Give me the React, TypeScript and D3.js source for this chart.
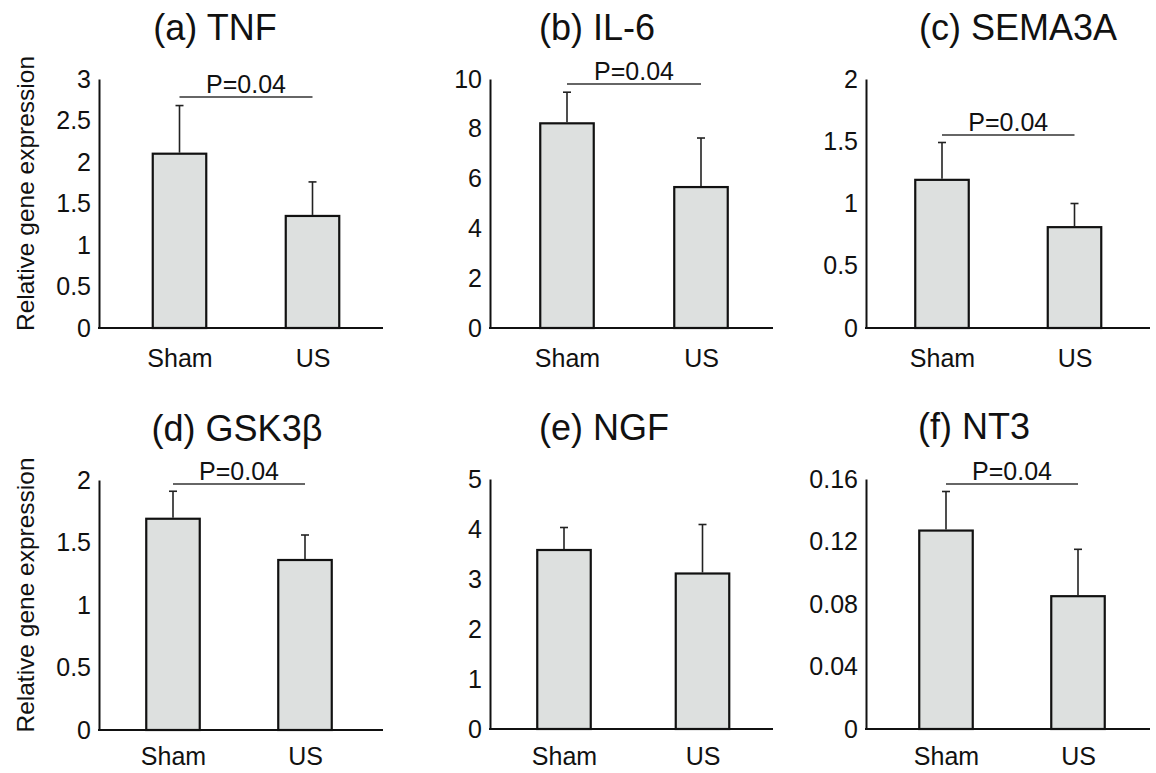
import * as d3 from 'd3';
import { useEffect, useRef } from 'react';

const groups = ['Sham', 'US'];
const panelTitles = ['(a) TNF', '(b) IL-6', '(c) SEMA3A', '(d) GSK3β', '(e) NGF', '(f) NT3'];
const meanValues = [
  [2.1, 1.35],
  [8.22, 5.66],
  [1.19, 0.81],
  [1.69, 1.36],
  [3.58, 3.11],
  [0.127, 0.085],
];
const errorValues = [
  [0.58, 0.41],
  [1.25, 1.97],
  [0.3, 0.19],
  [0.22, 0.2],
  [0.45, 0.98],
  [0.025, 0.03],
];
const yTicks = [
  [0, 0.5, 1, 1.5, 2, 2.5, 3],
  [0, 2, 4, 6, 8, 10],
  [0, 0.5, 1, 1.5, 2],
  [0, 0.5, 1, 1.5, 2],
  [0, 1, 2, 3, 4, 5],
  [0, 0.04, 0.08, 0.12, 0.16],
];
const pLabels = ['P=0.04', 'P=0.04', 'P=0.04', 'P=0.04', null, 'P=0.04'];
const yTitle = 'Relative gene expression';

// panel geometry (pixels)
const layout = [
  { x0: 99, x1: 383, top: 79, base: 328, c0: 80.5, c1: 213.5, tx: 215, ty: 40, py: 97, lp: 21 },
  { x0: 490, x1: 773, top: 79, base: 328, c0: 77, c1: 211, tx: 597, ty: 40, py: 84, lp: 21 },
  { x0: 866, x1: 1150, top: 79, base: 328, c0: 76, c1: 208.5, tx: 1018, ty: 40, py: 135, lp: 21 },
  { x0: 99, x1: 383, top: 480, base: 730, c0: 74, c1: 206, tx: 237, ty: 441, py: 484, lp: 17 },
  { x0: 490, x1: 773, top: 479, base: 729, c0: 74, c1: 212.5, tx: 604, ty: 440, py: 0, lp: 18 },
  { x0: 866, x1: 1150, top: 479, base: 729, c0: 80, c1: 212, tx: 974, ty: 439, py: 484, lp: 18 },
];

const FONT = '"Liberation Sans", Arial, sans-serif';
const BAR_W = 53.5;

export default function App() {
  const ref = useRef<SVGSVGElement>(null);

  useEffect(() => {
    const svg = d3.select(ref.current);
    svg.selectAll('*').remove();

    svg.append('rect').attr('width', 1156).attr('height', 773).attr('fill', '#fff');

    layout.forEach((L, i) => {
      const g = svg.append('g');
      const y = d3.scaleLinear()
        .domain([0, yTicks[i][yTicks[i].length - 1]])
        .range([L.base, L.top]);
      const x = d3.scalePoint<string>()
        .domain(groups)
        .range([L.x0 + L.c0, L.x0 + L.c1]);

      // y axis
      const ya = g.append('g')
        .attr('transform', `translate(${L.x0},0)`)
        .call(d3.axisLeft(y).tickValues(yTicks[i]).tickFormat(d => String(d)).tickSize(0).tickPadding(8));
      ya.select('.domain').attr('stroke', '#111').attr('stroke-width', 2);
      ya.selectAll('text')
        .attr('fill', '#111')
        .style('font-family', FONT)
        .style('font-size', '25px');

      // x axis labels
      const xa = g.append('g')
        .attr('transform', `translate(0,${L.base})`)
        .call(d3.axisBottom(x).tickSize(0).tickPadding(L.lp));
      xa.select('.domain').remove();
      xa.selectAll('text')
        .attr('fill', '#111')
        .style('font-family', FONT)
        .style('font-size', '25px');

      // bars
      g.selectAll('rect.bar')
        .data(groups)
        .enter()
        .append('rect')
        .attr('class', 'bar')
        .attr('x', d => x(d)! - BAR_W / 2)
        .attr('y', (d, j) => y(meanValues[i][j]))
        .attr('width', BAR_W)
        .attr('height', (d, j) => L.base - y(meanValues[i][j]))
        .attr('fill', '#dde0df')
        .attr('stroke', '#111')
        .attr('stroke-width', 2.2);

      // error bars (upper only)
      groups.forEach((grp, j) => {
        const cx = x(grp)!;
        const yTop = y(meanValues[i][j] + errorValues[i][j]);
        g.append('line')
          .attr('x1', cx).attr('x2', cx)
          .attr('y1', y(meanValues[i][j]) - 1).attr('y2', yTop)
          .attr('stroke', '#222').attr('stroke-width', 1.6);
        g.append('line')
          .attr('x1', cx - 4).attr('x2', cx + 4)
          .attr('y1', yTop).attr('y2', yTop)
          .attr('stroke', '#222').attr('stroke-width', 1.6);
      });

      // baseline
      g.append('line')
        .attr('x1', L.x0 - 1).attr('x2', L.x1)
        .attr('y1', L.base).attr('y2', L.base)
        .attr('stroke', '#111').attr('stroke-width', 2);

      // significance bracket
      if (pLabels[i]) {
        g.append('line')
          .attr('x1', x(groups[0])!).attr('x2', x(groups[1])!)
          .attr('y1', L.py).attr('y2', L.py)
          .attr('stroke', '#333').attr('stroke-width', 1.5);
        g.append('text')
          .attr('x', (x(groups[0])! + x(groups[1])!) / 2)
          .attr('y', L.py - 4)
          .attr('text-anchor', 'middle')
          .attr('fill', '#111')
          .style('font-family', FONT)
          .style('font-size', '25px')
          .text(pLabels[i]!);
      }

      // title
      g.append('text')
        .attr('x', L.tx)
        .attr('y', L.ty)
        .attr('text-anchor', 'middle')
        .attr('fill', '#111')
        .style('font-family', FONT)
        .style('font-size', '36px')
        .text(panelTitles[i]);

      // y title on first column
      if (i % 3 === 0) {
        g.append('text')
          .attr('transform', `translate(34,${(L.top + L.base) / 2 - 10}) rotate(-90)`)
          .attr('text-anchor', 'middle')
          .attr('fill', '#111')
          .style('font-family', FONT)
          .style('font-size', '24.5px')
          .text(yTitle);
      }
    });

    return () => {
      svg.selectAll('*').remove();
    };
  }, []);

  return (
    <svg
      ref={ref}
      width={1156}
      height={773}
      style={{ position: 'absolute', left: 0, top: 0 }}
    />
  );
}
